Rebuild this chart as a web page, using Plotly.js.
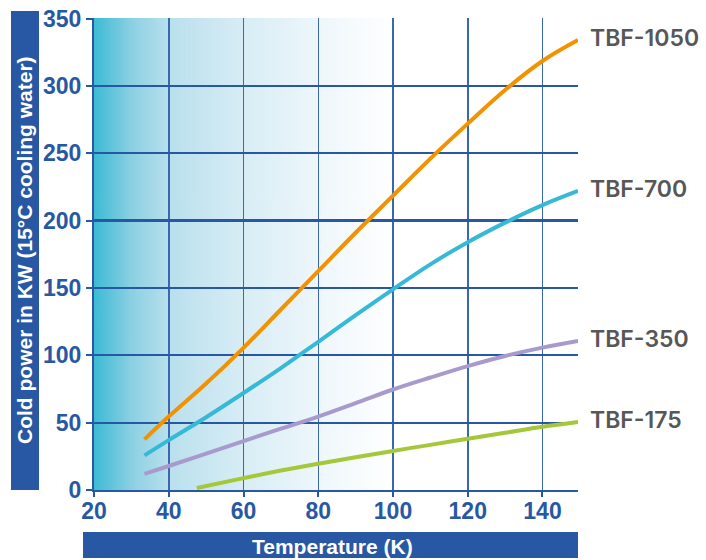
<!DOCTYPE html>
<html><head><meta charset="utf-8">
<script src="https://cdn.plot.ly/plotly-3.0.1.min.js"></script>
<style>body{margin:0;background:#fff}#chart{width:706px;height:560px}</style>
</head><body><div id="chart"></div>
<script>
// ---- data ----
const seriesNames = ['TBF-1050', 'TBF-700', 'TBF-350', 'TBF-175'];
const temps = [33.5, 40, 50, 60, 70, 80, 90, 100, 110, 120, 130, 140, 149.5];
const tbf1050 = [37.6, 54.5, 79, 105.5, 134, 162.5, 191, 218.5, 246, 272, 297, 318.5, 334];
const tbf700 = [25.7, 37, 54, 72, 90.5, 110, 129.8, 149, 167.5, 184, 198.5, 211.5, 222];
const tbf350 = [12, 17.8, 27, 36.3, 45.5, 54.5, 64.5, 74.6, 83.5, 92, 99.5, 105.7, 110.6];
const temps175 = [47.5, 60, 70, 80, 90, 100, 110, 120, 130, 140, 149.5];
const tbf175 = [1.5, 8.8, 14.5, 19.5, 24.3, 29, 33.5, 38, 42.5, 47, 50.5];
const xTicks = [20, 40, 60, 80, 100, 120, 140];
const yTicks = [0, 50, 100, 150, 200, 250, 300, 350];
const xTitle = 'Temperature (K)';
const yTitle = 'Cold power in KW (15°C cooling water)';

// ---- styling ----
const colors = ['#f39200', '#36b8d7', '#a99acd', '#a5c73a'];
const blue = '#2858a4';
const xs = [temps, temps, temps, temps175];
const ys = [tbf1050, tbf700, tbf350, tbf175];
const xRange = [20, 149.5];

const traces = seriesNames.map((n, i) => ({
  type: 'scatter', mode: 'lines', name: n, x: xs[i], y: ys[i],
  line: {color: colors[i], width: 4, shape: 'spline', smoothing: 1},
  hoverinfo: 'skip'
}));

// gradient background drawn on a canvas
const cv = document.createElement('canvas');
cv.width = 500; cv.height = 4;
const ctx = cv.getContext('2d');
const span = xRange[1] - xRange[0];
const g = ctx.createLinearGradient(0, 0, 500, 0);
g.addColorStop(0, 'rgb(60,187,213)');
g.addColorStop((30 - 20) / span, 'rgb(140,208,227)');
g.addColorStop((40 - 20) / span, 'rgb(185,224,237)');
g.addColorStop((60 - 20) / span, 'rgb(216,237,245)');
g.addColorStop((80 - 20) / span, 'rgb(238,247,251)');
g.addColorStop((100 - 20) / span, 'rgb(255,255,255)');
g.addColorStop(1, 'rgb(255,255,255)');
ctx.fillStyle = g; ctx.fillRect(0, 0, 500, 4);

const tickFont = {family: '"Liberation Sans Narrow", "Liberation Sans", Arial, sans-serif', size: 23, color: blue, weight: 'bold'};
const labelFont = {family: 'Inter, "Liberation Sans", Arial, sans-serif', size: 23, color: '#575757', weight: 600};

const annotations = seriesNames.map((n, i) => ({
  x: xs[i][xs[i].length - 1], y: ys[i][ys[i].length - 1], xref: 'x', yref: 'y',
  text: n, showarrow: false, xanchor: 'left', yanchor: 'middle', xshift: 10, yshift: 2,
  font: labelFont
}));
annotations.push({
  xref: 'paper', yref: 'paper', x: -0.1425, y: 0.5085, text: yTitle, textangle: -90,
  showarrow: false, xanchor: 'center', yanchor: 'middle',
  font: {family: '"Liberation Sans", Arial, sans-serif', size: 21, color: '#ffffff', weight: 'bold'}
});
annotations.push({
  xref: 'paper', yref: 'paper', x: 0.492, y: -0.1196, text: xTitle,
  showarrow: false, xanchor: 'center', yanchor: 'middle',
  font: {family: '"Liberation Sans", Arial, sans-serif', size: 21, color: '#ffffff', weight: 'bold'}
});

const layout = {
  width: 706, height: 560,
  margin: {l: 94, r: 128, t: 18, b: 70},
  paper_bgcolor: '#ffffff', plot_bgcolor: 'rgba(0,0,0,0)',
  showlegend: false,
  xaxis: {
    range: xRange, tickvals: xTicks, ticktext: xTicks.map(String),
    showgrid: true, gridcolor: '#3a67b2', gridwidth: 1.5,
    showline: true, linecolor: blue, linewidth: 2,
    ticks: 'outside', ticklen: 5, tickwidth: 2, tickcolor: blue,
    ticklabelstandoff: -6,
    tickfont: tickFont, zeroline: false, fixedrange: true
  },
  yaxis: {
    range: [0, 350.4], tickvals: yTicks, ticktext: yTicks.map(String),
    showgrid: true, gridcolor: blue, gridwidth: 2.2,
    showline: true, linecolor: blue, linewidth: 2,
    ticks: 'outside', ticklen: 6, tickwidth: 2, tickcolor: blue,
    tickfont: tickFont, zeroline: false, fixedrange: true
  },
  images: [{source: cv.toDataURL(), xref: 'paper', yref: 'paper', x: 0, y: 1,
    sizex: 1, sizey: 1, sizing: 'stretch', xanchor: 'left', yanchor: 'top', layer: 'below'}],
  shapes: [
    {type: 'rect', xref: 'paper', yref: 'paper', x0: -0.1715, x1: -0.1136, y0: 0, y1: 1.0148,
      fillcolor: blue, line: {width: 0}, layer: 'above'},
    {type: 'rect', xref: 'paper', yref: 'paper', x0: -0.0227, x1: 1.0, y0: -0.1441, y1: -0.089,
      fillcolor: blue, line: {width: 0}, layer: 'above'}
  ],
  annotations: annotations
};

Plotly.newPlot('chart', traces, layout, {displayModeBar: false, staticPlot: true});
</script>
</body></html>
